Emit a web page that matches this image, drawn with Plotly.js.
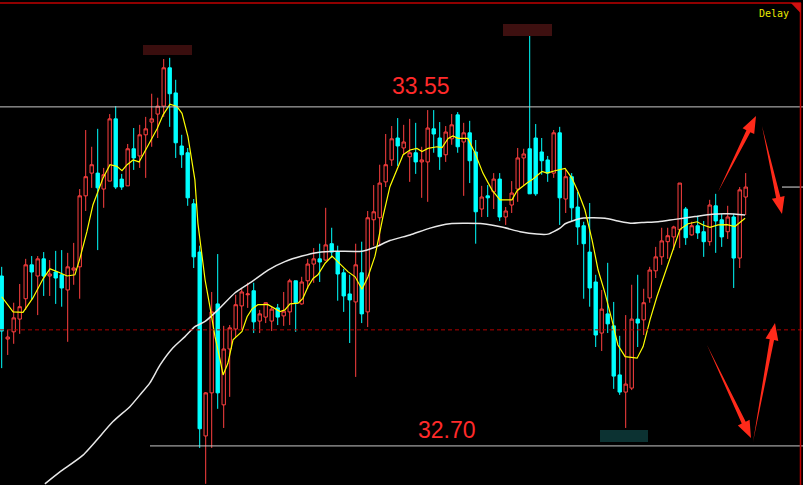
<!DOCTYPE html>
<html><head><meta charset="utf-8">
<script src="https://cdn.plot.ly/plotly-3.0.1.min.js"></script>
<style>html,body{margin:0;padding:0;background:#000;}#chart{width:803px;height:485px;}</style>
</head><body><div id="chart"></div>
<script>
// ---- candle data ----
const openP = [33.126,32.968,32.986,33.018,33.069,33.154,33.126,33.169,33.126,33.136,
33.129,33.091,33.141,33.149,33.327,33.384,33.384,33.344,33.364,33.520,
33.369,33.352,33.445,33.427,33.480,33.512,33.532,33.552,33.648,33.585,
33.452,33.435,33.307,33.186,32.725,32.833,33.056,32.803,32.943,32.993,
33.051,33.079,33.089,33.013,33.023,33.013,33.046,33.026,33.036,33.114,
33.056,33.114,33.156,33.169,33.166,33.207,33.186,33.134,33.081,33.061,
33.134,33.036,33.267,33.272,33.362,33.417,33.472,33.447,33.425,33.435,
33.412,33.412,33.495,33.472,33.430,33.470,33.530,33.462,33.485,33.437,
33.294,33.327,33.337,33.369,33.274,33.304,33.344,33.422,33.445,33.472,
33.437,33.417,33.384,33.485,33.319,33.375,33.299,33.252,33.186,33.111,
32.983,33.031,33.001,32.878,32.835,32.845,33.018,33.016,33.071,33.139,
33.174,33.212,33.224,33.242,33.294,33.229,33.252,33.237,33.212,33.302,
33.267,33.237,33.274,33.171,33.324];
const highP = [33.149,32.991,33.059,33.106,33.169,33.176,33.176,33.186,33.166,33.189,
33.191,33.184,33.209,33.344,33.492,33.450,33.495,33.397,33.532,33.552,
33.382,33.457,33.497,33.505,33.525,33.583,33.573,33.670,33.673,33.618,
33.480,33.447,33.319,33.202,32.835,33.086,33.181,33.001,33.003,33.079,
33.094,33.109,33.109,33.041,33.059,33.049,33.056,33.086,33.119,33.114,
33.124,33.169,33.196,33.207,33.297,33.247,33.202,33.144,33.129,33.207,
33.212,33.289,33.354,33.405,33.482,33.502,33.522,33.505,33.520,33.510,
33.450,33.542,33.542,33.512,33.502,33.532,33.537,33.510,33.515,33.467,
33.352,33.354,33.384,33.384,33.299,33.364,33.447,33.445,33.733,33.507,
33.472,33.427,33.492,33.500,33.392,33.384,33.337,33.262,33.309,33.129,
33.091,33.159,33.061,32.976,33.028,33.104,33.129,33.094,33.149,33.199,
33.247,33.247,33.252,33.359,33.299,33.262,33.277,33.264,33.317,33.332,
33.282,33.302,33.282,33.349,33.384];
const lowP = [32.895,32.928,32.956,32.981,33.041,33.066,33.028,33.076,33.076,33.056,
33.049,32.961,33.104,33.069,33.289,33.347,33.191,33.297,33.364,33.344,
33.342,33.352,33.392,33.397,33.372,33.450,33.472,33.525,33.500,33.422,
33.397,33.302,33.146,32.695,32.605,32.695,32.793,32.745,32.823,32.973,
32.991,33.046,32.983,32.983,33.008,32.988,33.003,33.001,33.003,32.986,
33.054,33.094,33.109,33.111,33.164,33.171,33.064,33.036,32.958,32.873,
33.008,32.998,33.202,33.202,33.349,33.402,33.402,33.430,33.362,33.382,
33.322,33.312,33.435,33.392,33.412,33.455,33.435,33.327,33.359,33.207,
33.274,33.274,33.294,33.264,33.254,33.284,33.312,33.352,33.332,33.327,
33.380,33.362,33.372,33.254,33.284,33.264,33.204,33.069,33.049,32.948,
32.938,32.983,32.843,32.828,32.745,32.840,32.948,32.978,33.059,33.121,
33.154,33.169,33.191,33.196,33.204,33.227,33.219,33.174,33.202,33.184,
33.199,33.219,33.096,33.146,33.279];
const closeP = [32.988,32.973,33.021,33.049,33.154,33.136,33.169,33.126,33.131,33.121,
33.096,33.149,33.146,33.327,33.375,33.405,33.347,33.380,33.520,33.349,
33.349,33.445,33.422,33.480,33.495,33.520,33.552,33.648,33.583,33.460,
33.430,33.322,33.174,32.743,32.833,33.036,32.833,32.943,32.996,33.054,
33.086,33.081,33.011,33.031,33.059,33.043,33.023,33.038,33.114,33.059,
33.111,33.156,33.169,33.161,33.204,33.186,33.131,33.076,33.066,33.154,
33.031,33.272,33.287,33.359,33.405,33.470,33.452,33.462,33.435,33.412,
33.417,33.497,33.482,33.425,33.487,33.505,33.450,33.485,33.415,33.287,
33.324,33.322,33.369,33.274,33.289,33.334,33.422,33.432,33.332,33.332,
33.415,33.384,33.485,33.322,33.375,33.297,33.249,33.207,33.096,32.978,
33.043,33.006,32.875,32.835,32.855,33.018,33.008,33.059,33.141,33.174,
33.214,33.227,33.249,33.359,33.222,33.252,33.234,33.212,33.304,33.264,
33.224,33.274,33.171,33.342,33.349];

// short moving average (yellow), read at positions along the candle index axis
const maFastX = [0,1.9,3.55,5.2,6.9,8.05,9.4,10.9,12.2,13.05,14.2,15.2,16.9,18.05,19.2,20.05,20.9,21.9,22.9,24.2,25.9,26.9,28.05,29.2,30.05,31.05,32.2,32.7,33.4,33.9,34.7,35.55,36.4,36.9,37.7,38.55,40.05,40.9,41.7,42.7,44.4,45.55,46.4,47.2,48.05,49.4,50.2,51.05,51.9,52.7,53.9,55.05,56.05,57.7,58.9,60.05,61.05,62.2,62.55,63.55,64.7,65.9,66.9,68.05,69.2,70.05,71.05,72.55,73.4,74.4,75.2,76.05,77.7,78.9,80.2,81.7,83.05,85.05,85.9,87.55,88.55,90.05,90.9,92.2,93.9,95.05,96.05,97.2,98.4,99.4,100.55,101.7,102.7,103.9,105.9,106.9,108.05,109.2,110.55,111.7,113.05,114.4,115.9,116.9,118.05,119.4,120.9,122.2,123.9];
const maFastY = [33.074,33.036,33.035,33.071,33.119,33.144,33.136,33.126,33.129,33.171,33.237,33.304,33.372,33.405,33.401,33.390,33.405,33.417,33.412,33.447,33.495,33.530,33.557,33.551,33.534,33.475,33.367,33.258,33.175,33.116,33.049,32.974,32.916,32.878,32.907,32.966,32.987,33.024,33.043,33.054,33.054,33.045,33.037,33.041,33.056,33.058,33.070,33.099,33.120,33.129,33.158,33.176,33.162,33.137,33.124,33.093,33.124,33.175,33.200,33.275,33.350,33.392,33.430,33.442,33.446,33.438,33.446,33.450,33.448,33.471,33.477,33.471,33.471,33.434,33.384,33.342,33.317,33.317,33.340,33.359,33.369,33.388,33.384,33.390,33.396,33.371,33.338,33.292,33.216,33.141,33.083,33.016,32.953,32.924,32.920,32.949,33.016,33.074,33.133,33.187,33.243,33.257,33.262,33.254,33.248,33.254,33.255,33.250,33.271];
// long moving average (white)
const maSlowX = [7.2,9.7,13.55,18.55,21.4,23.05,24.7,26.4,28.55,30.55,32.2,33.9,36.05,38.9,41.7,44.4,47.2,50.05,52.7,55.55,60.05,62.2,64.7,68.05,71.4,74.7,76.9,80.2,83.55,86.4,89.2,91.05,93.05,93.9,96.7,100.55,102.7,105.05,106.7,109.4,112.2,115.55,118.4,121.05,123.9];
const maSlowY = [32.605,32.635,32.677,32.761,32.799,32.828,32.858,32.903,32.946,32.974,32.999,33.012,33.041,33.084,33.112,33.141,33.162,33.176,33.185,33.188,33.188,33.198,33.215,33.229,33.246,33.257,33.258,33.257,33.248,33.237,33.231,33.231,33.246,33.257,33.271,33.271,33.264,33.258,33.260,33.262,33.268,33.275,33.281,33.282,33.279];

// reference levels
const levelHigh = 33.55, levelLow = 32.70, levelDash = 32.991, levelRight = 33.349;
const labelHigh = "33.55", labelLow = "32.70";

const idx = openP.map((_, i) => i);
const W = 803, H = 485;
const px = v => v / W, py = v => 1 - v / H;

function arrowPath(tx, ty, hx, hy) {
  const dx = hx - tx, dy = hy - ty, L = Math.hypot(dx, dy);
  const ux = dx / L, uy = dy / L, nx = -uy, ny = ux;
  const hl = 17, hw = 6.5, sw = 2.2;
  const bx = hx - ux * hl, by = hy - uy * hl;
  const pts = [[tx, ty], [bx + nx * sw, by + ny * sw], [bx + nx * hw, by + ny * hw], [hx, hy],
               [bx - nx * hw, by - ny * hw], [bx - nx * sw, by - ny * sw]];
  return 'M' + pts.map(p => px(p[0]).toFixed(5) + ',' + py(p[1]).toFixed(5)).join(' L') + ' Z';
}
const arrows = [[718, 192, 756, 116], [762, 126, 782, 214], [707, 345, 751, 438], [753, 442, 775, 323]];

const traces = [
  { type: 'candlestick', x: idx, open: openP, high: highP, low: lowP, close: closeP,
    increasing: { line: { color: '#ff4040', width: 1 }, fillcolor: '#000000' },
    decreasing: { line: { color: '#00ffff', width: 1 }, fillcolor: '#00ffff' },
    whiskerwidth: 0, hoverinfo: 'skip', showlegend: false },
  { type: 'scatter', mode: 'lines', x: maSlowX, y: maSlowY,
    line: { color: '#e8e8e8', width: 1.5, shape: 'spline', smoothing: 0.6 }, hoverinfo: 'skip', showlegend: false },
  { type: 'scatter', mode: 'lines', x: maFastX, y: maFastY,
    line: { color: '#ffff00', width: 1.2 }, hoverinfo: 'skip', showlegend: false }
];

const shapes = [
  { type: 'line', xref: 'paper', yref: 'y', x0: 0, x1: 1, y0: levelHigh, y1: levelHigh, line: { color: '#c8c8c8', width: 1 } },
  { type: 'line', xref: 'paper', yref: 'y', x0: px(150), x1: 1, y0: levelLow, y1: levelLow, line: { color: '#c8c8c8', width: 1 } },
  { type: 'line', xref: 'paper', yref: 'y', x0: 0, x1: 1, y0: levelDash, y1: levelDash, line: { color: '#b00000', width: 1, dash: '4px,3px' } },
  { type: 'line', xref: 'paper', yref: 'y', x0: px(782), x1: 1, y0: levelRight, y1: levelRight, line: { color: '#e0e0e0', width: 1 } },
  // frame
  { type: 'line', xref: 'paper', yref: 'paper', x0: 0, x1: px(801), y0: py(3), y1: py(3), line: { color: '#c00000', width: 1.5 } },
  { type: 'line', xref: 'paper', yref: 'paper', x0: px(800.5), x1: px(800.5), y0: py(3), y1: 0, line: { color: '#c00000', width: 1.5 } },
  { type: 'path', xref: 'paper', yref: 'paper', path: `M${px(791)},${py(3)} L${px(800.5)},${py(3)} L${px(800.5)},${py(13)} Z`, fillcolor: '#d01010', line: { width: 0 } },
  // blurred price tags
  { type: 'rect', xref: 'paper', yref: 'paper', x0: px(143), x1: px(192), y0: py(55), y1: py(45), fillcolor: '#3a0e0e', line: { width: 0 } },
  { type: 'rect', xref: 'paper', yref: 'paper', x0: px(503), x1: px(552), y0: py(36), y1: py(24), fillcolor: '#3e1010', line: { width: 0 } },
  { type: 'rect', xref: 'paper', yref: 'paper', x0: px(600), x1: px(648), y0: py(442), y1: py(430), fillcolor: '#0c3232', line: { width: 0 } }
].concat(arrows.map(a => ({ type: 'path', xref: 'paper', yref: 'paper', path: arrowPath(a[0], a[1], a[2], a[3]),
  fillcolor: '#ff2a1a', line: { width: 0 } })));

const layout = {
  width: W, height: H, margin: { l: 0, r: 0, t: 0, b: 0 },
  paper_bgcolor: '#000000', plot_bgcolor: '#000000',
  xaxis: { range: [-0.283, 133.55], visible: false, rangeslider: { visible: false }, fixedrange: true },
  yaxis: { range: [32.602, 33.818], visible: false, fixedrange: true },
  boxgap: 0.2,
  showlegend: false,
  shapes: shapes,
  annotations: [
    { xref: 'paper', yref: 'y', x: px(421), y: levelHigh, yshift: 21, text: labelHigh, showarrow: false,
      font: { family: 'Liberation Sans Narrow, Liberation Sans, Arial, sans-serif', size: 23, color: '#ff2a2a' } },
    { xref: 'paper', yref: 'y', x: px(447), y: levelLow, yshift: 16, text: labelLow, showarrow: false,
      font: { family: 'Liberation Sans Narrow, Liberation Sans, Arial, sans-serif', size: 23, color: '#ff2a2a' } },
    { xref: 'paper', yref: 'paper', x: px(791), y: py(13), xanchor: 'right', yanchor: 'middle', text: 'Delay', showarrow: false,
      font: { family: 'DejaVu Sans Mono, monospace', size: 10, color: '#e8e800' } }
  ]
};
Plotly.newPlot('chart', traces, layout, { staticPlot: true, displayModeBar: false });
</script></body></html>
